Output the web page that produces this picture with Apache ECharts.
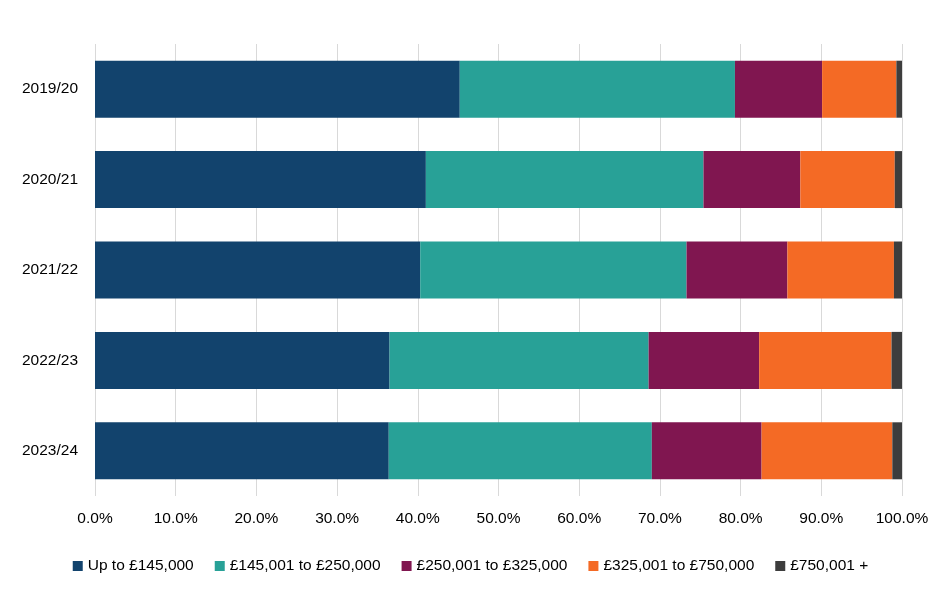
<!DOCTYPE html>
<html lang="en">
<head>
    <meta charset="UTF-8">
    <title>Price bands by year</title>
    <style>
        html, body { margin: 0; padding: 0; background: #fff; }
    </style>
</head>
<body>
    <div id="chart" style="width:941px; height:614px"></div>

    <script src="https://cdn.jsdelivr.net/npm/echarts@6/dist/echarts.min.js"></script>
    <script>
        // years, top to bottom
        const years = ['2019/20', '2020/21', '2021/22', '2022/23', '2023/24'];

        // share of transactions in each band (%)
        const upTo145k = [45.2, 41.0, 40.3, 36.5, 36.4];
        const from145kTo250k = [34.1, 34.4, 33.0, 32.1, 32.6];
        const from250kTo325k = [10.8, 12.0, 12.5, 13.7, 13.6];
        const from325kTo750k = [9.2, 11.7, 13.2, 16.4, 16.2];
        const over750k = [0.7, 0.9, 1.0, 1.3, 1.2];

        const bandNames = ['Up to £145,000', '£145,001 to £250,000', '£250,001 to £325,000', '£325,001 to £750,000', '£750,001 +'];
        const bandValues = [upTo145k, from145kTo250k, from250kTo325k, from325kTo750k, over750k];
        const bandColours = ['#12436D', '#28A197', '#801650', '#F46A25', '#3D3D3D'];

        const font = 'Liberation Sans';
        const chart = echarts.init(document.getElementById('chart'));

        chart.setOption({
            animation: false,
            color: bandColours,
            grid: { left: 95, right: 39, top: 44, bottom: 118 },
            legend: {
                top: 553,
                left: 'center',
                icon: 'rect',
                itemWidth: 10,
                itemHeight: 10,
                itemGap: 21,
                textStyle: { fontFamily: font, fontSize: 15.5, color: '#000' },
                data: bandNames
            },
            xAxis: {
                type: 'value',
                min: 0,
                max: 100,
                interval: 10,
                axisLine: { show: false },
                axisTick: { show: false },
                splitLine: { show: true, lineStyle: { color: '#d9d9d9', width: 1 } },
                axisLabel: {
                    margin: 15,
                    fontFamily: font,
                    fontSize: 15.5,
                    color: '#000',
                    formatter: v => v.toFixed(1) + '%'
                }
            },
            yAxis: {
                type: 'category',
                inverse: true,
                data: years,
                axisLine: { show: false },
                axisTick: { show: false },
                axisLabel: { margin: 17, fontFamily: font, fontSize: 15.5, color: '#000' }
            },
            series: bandNames.map((name, i) => ({
                name: name,
                type: 'bar',
                stack: 'total',
                barWidth: 57,
                data: bandValues[i]
            }))
        });
    </script>
</body>
</html>
